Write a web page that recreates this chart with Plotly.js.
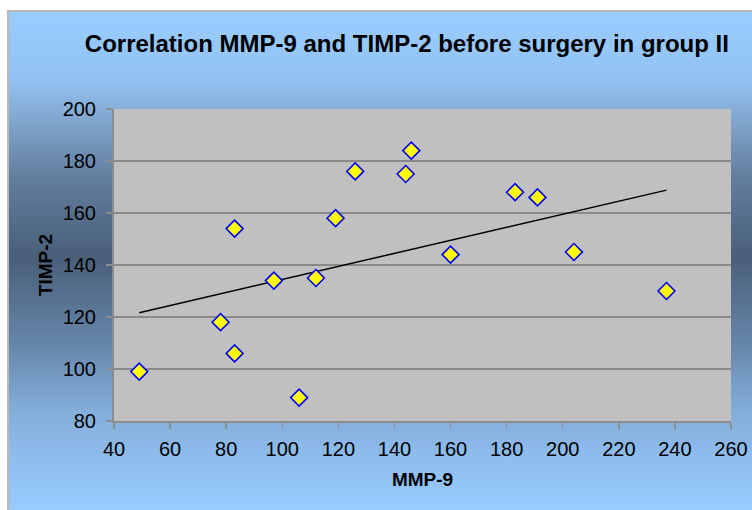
<!DOCTYPE html>
<html>
<head>
<meta charset="utf-8">
<script src="https://cdn.plot.ly/plotly-3.0.1.min.js"></script>
<style>
  html, body { margin: 0; padding: 0; background: #ffffff; overflow: hidden; }
  #frame {
    position: absolute; left: 7px; top: 10px; width: 760px; height: 500px;
    border-top: 2px solid #b8b8b8; border-left: 2px solid #b8b8b8;
    background: linear-gradient(to bottom, #99ccff 0%, #93c3f5 13%, #85acd5 20%, #627e9e 33%, #4a5f78 49%, #6585a8 66%, #84aedb 80%, #8fbef0 90%, #99ccff 100%);
  }
  #chart { position: absolute; left: 0; top: 0; width: 752px; height: 510px; }
</style>
</head>
<body>
<div id="frame"></div>
<div id="chart"></div>
<script>
const mmp9  = [49, 78, 83, 83, 97, 106, 112, 119, 126, 144, 146, 160, 183, 191, 204, 237];
const timp2 = [99, 118, 106, 154, 134, 89, 135, 158, 176, 175, 184, 144, 168, 166, 145, 130];
const xTicks = [40, 60, 80, 100, 120, 140, 160, 180, 200, 220, 240, 260];
const yTicks = [80, 100, 120, 140, 160, 180, 200];

// linear regression trend line from the data
const n = mmp9.length;
const mx = mmp9.reduce((a, b) => a + b, 0) / n;
const my = timp2.reduce((a, b) => a + b, 0) / n;
let sxy = 0, sxx = 0;
for (let i = 0; i < n; i++) { sxy += (mmp9[i] - mx) * (timp2[i] - my); sxx += (mmp9[i] - mx) ** 2; }
const slope = sxy / sxx, icpt = my - slope * mx;
const xMin = Math.min(...mmp9), xMax = Math.max(...mmp9);
const trendX = [xMin, xMax];
const trendY = trendX.map(v => icpt + slope * v);

const font = "Liberation Sans, Arial, Helvetica, sans-serif";

const data = [
  { x: trendX, y: trendY, mode: 'lines', type: 'scatter', line: { color: '#000000', width: 1.5 }, hoverinfo: 'skip' },
  { x: mmp9, y: timp2, mode: 'markers', type: 'scatter',
    marker: { symbol: 'diamond', size: 13, color: '#ffff00', line: { color: '#0000ff', width: 1.6 } } }
];

const layout = {
  width: 752, height: 510,
  paper_bgcolor: 'rgba(0,0,0,0)',
  plot_bgcolor: '#c0c0c0',
  showlegend: false,
  margin: { l: 114, r: 21, t: 109, b: 89, pad: 0 },
  font: { family: font, color: '#000000' },
  title: { text: 'Correlation MMP-9 and TIMP-2 before surgery in group II',
           font: { family: font, size: 24, color: '#000000', weight: 'bold' },
           x: 0.541, xanchor: 'center', xref: 'container', y: 0.915, yanchor: 'middle', yref: 'container' },
  xaxis: {
    range: [40, 260], tickvals: xTicks, ticktext: xTicks.map(String),
    showgrid: false, zeroline: false,
    showline: true, linecolor: '#8c8c8c', linewidth: 2,
    ticks: 'outside', ticklen: 6, tickcolor: '#8c8c8c', tickwidth: 1.5,
    ticklabelstandoff: 3,
    tickfont: { family: font, size: 20, color: '#000000' },
    title: { text: 'MMP-9', font: { family: font, size: 19, weight: 'bold' }, standoff: 14 }
  },
  yaxis: {
    range: [80, 200], tickvals: yTicks, ticktext: yTicks.map(String),
    showgrid: true, gridcolor: '#8a8a8a', gridwidth: 2, zeroline: false,
    showline: true, linecolor: '#8c8c8c', linewidth: 2,
    ticks: 'outside', ticklen: 6, tickcolor: '#8c8c8c', tickwidth: 1.5,
    ticklabelstandoff: 6,
    tickfont: { family: font, size: 20, color: '#000000' },
    title: { text: 'TIMP-2', font: { family: font, size: 19, weight: 'bold' }, standoff: 5 }
  }
};

Plotly.newPlot('chart', data, layout, { staticPlot: true, displayModeBar: false });
</script>
</body>
</html>
